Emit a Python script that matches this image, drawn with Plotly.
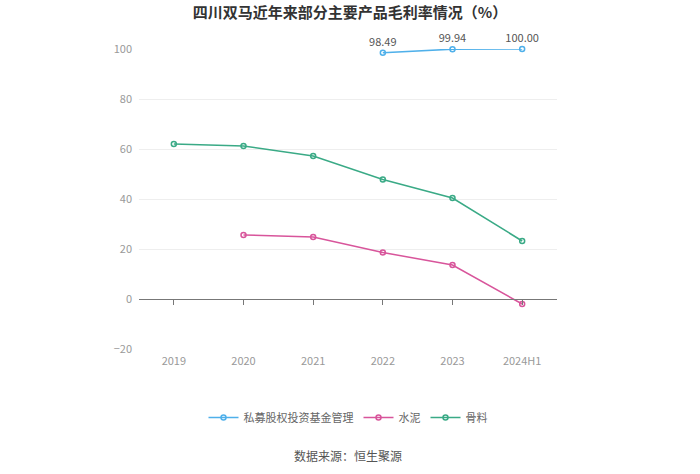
import plotly.graph_objects as go

categories = ["2019", "2020", "2021", "2022", "2023", "2024H1"]
pe_fund = [None, None, None, 98.49, 99.94, 100.00]
cement = [None, 25.6, 24.8, 18.6, 13.6, -2.0]
aggregate = [62.0, 61.2, 57.2, 47.8, 40.4, 23.2]
pe_labels = ["", "", "", "98.49", "99.94", "100.00"]

names = ["私募股权投资基金管理", "水泥", "骨料"]
colors = ["#4fb0ea", "#d8559b", "#3aaa86"]

fig = go.Figure()
font = "Noto Sans CJK SC"

fig.add_trace(go.Scatter(
    x=categories, y=pe_fund, name=names[0], mode="lines+markers+text",
    text=pe_labels, textposition="top center",
    textfont=dict(color="#555555", size=11, family=font),
    line=dict(color=colors[0], width=1.5),
    marker=dict(symbol="circle-open", size=5, color=colors[0], line=dict(width=1.5)),
    cliponaxis=False,
))
fig.add_trace(go.Scatter(
    x=categories, y=cement, name=names[1], mode="lines+markers",
    line=dict(color=colors[1], width=1.5),
    marker=dict(symbol="circle-open", size=5, color=colors[1], line=dict(width=1.5)),
    cliponaxis=False,
))
fig.add_trace(go.Scatter(
    x=categories, y=aggregate, name=names[2], mode="lines+markers",
    line=dict(color=colors[2], width=1.5),
    marker=dict(symbol="circle-open", size=5, color=colors[2], line=dict(width=1.5)),
    cliponaxis=False,
))
# invisible trace for the zero-line axis with ticks
fig.add_trace(go.Scatter(x=categories, y=[None]*6, xaxis="x2", showlegend=False,
                         hoverinfo="skip", mode="lines"))

fig.update_layout(
    width=700, height=474,
    margin=dict(l=139, r=143, t=49, b=125),
    paper_bgcolor="white", plot_bgcolor="white",
    title=dict(text="<b>四川双马近年来部分主要产品毛利率情况（%）</b>", x=0.5, xanchor="center",
               y=1 - 13/474, yanchor="middle", font=dict(size=15, color="#333333", family=font)),
    font=dict(family=font, color="#999999", size=11),
    xaxis=dict(type="category", range=[-0.5, 5.5], showgrid=False, showline=False,
               ticks="", tickfont=dict(size=11, color="#999999"), zeroline=False,
               ticklabelstandoff=4),
    xaxis2=dict(type="category", range=[-0.5, 5.5], overlaying="x", anchor="free",
                position=1/6, showline=True, linecolor="#777777", linewidth=1,
                ticks="outside", ticklen=5, tickcolor="#777777", showticklabels=False,
                showgrid=False, zeroline=False),
    yaxis=dict(range=[-20, 100], dtick=20, showgrid=True, gridcolor="#eeeeee",
               zeroline=False, showline=False, ticks="", tickfont=dict(size=11, color="#999999"),
               ticklabelstandoff=6),
    legend=dict(orientation="h", x=0.5, xanchor="center", y=-0.18, yanchor="top",
                font=dict(size=11, color="#666666"), itemwidth=30),
    showlegend=True,
)

fig.add_annotation(text="数据来源：恒生聚源", xref="paper", yref="paper", x=0.5, y=-0.355,
                   xanchor="center", yanchor="middle", showarrow=False,
                   font=dict(size=12, color="#555555", family=font))

fig.write_html("out.html", config={"displayModeBar": False},
               post_script="document.body.style.margin='0';")
